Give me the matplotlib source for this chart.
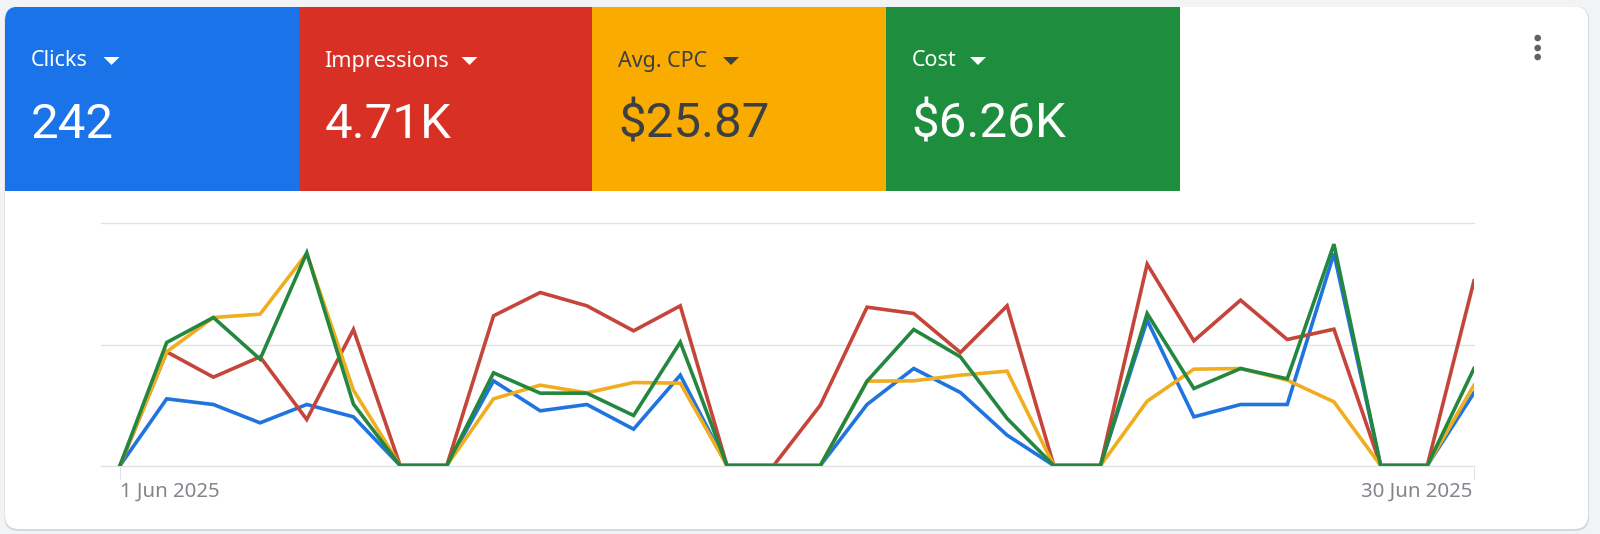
import matplotlib
matplotlib.use("Agg")
import matplotlib.pyplot as plt
from matplotlib.patches import FancyBboxPatch, Rectangle, Polygon, Circle
from matplotlib.transforms import ScaledTranslation

plt.rcParams['font.family'] = ['Roboto', 'DejaVu Sans']

# Data (heights; the top gridline is 726, the middle 363)
days = list(range(1, 31))
clicks = [0,200,183,128,183,146,0,0,254,164,183,109,271,0,0,0,183,291,219,91,0,0,436,146,183,183,636,0,0,218]
impressions = [0,341,265,326,138,408,0,0,449,519,479,404,479,0,0,181,475,456,339,479,0,0,604,374,496,378,409,0,0,554]
avg_cpc = [0,341,444,454,636,226,0,0,200,241,218,249,247,0,0,0,253,254,271,283,0,0,193,289,291,256,191,0,0,241]
cost = [0,369,444,319,638,184,0,0,278,217,217,150,370,0,0,0,253,408,326,141,0,0,456,231,291,260,664,0,0,291]
grid_values = [0, 363, 726]
tick_days = [1, 30]
tick_labels = ["1 Jun 2025", "30 Jun 2025"]

metric_names = ["Clicks", "Impressions", "Avg. CPC", "Cost"]
metric_values = ["242", "4.71K", "$25.87", "$6.26K"]
tile_colors = ["#1A73E8", "#D93025", "#F9AB00", "#1E8E3E"]
text_colors = ["#FFFFFF", "#FFFFFF", "#3C4043", "#FFFFFF"]
line_colors = ["#1F74E0", "#C5453A", "#F0AE1F", "#23873F"]
caret_x = [111.5, 469.5, 731, 978]

W, H = 1600, 534
fig = plt.figure(figsize=(W / 100, H / 100), dpi=100, facecolor="#F1F3F4")

bg = fig.add_axes([0, 0, 1, 1])
bg.set_xlim(0, W)
bg.set_ylim(H, 0)
bg.axis("off")

edge = FancyBboxPatch((4.5, 6.5), 1584.5, 524.5, boxstyle="round,pad=0,rounding_size=14",
                      fc="#D5D8DC", ec="none")
bg.add_patch(edge)
card = FancyBboxPatch((5, 6.5), 1583, 522.5, boxstyle="round,pad=0,rounding_size=14",
                      fc="white", ec="none")
bg.add_patch(card)

tile_w = 293.7
for i, (name, val, tc, txt) in enumerate(zip(metric_names, metric_values, tile_colors, text_colors)):
    x0 = 5 + i * tile_w
    r = Rectangle((x0, 6.5), tile_w, 184, fc=tc, ec="none")
    bg.add_patch(r)
    r.set_clip_path(card)
    bg.text(x0 + 25.5, 61, name, color=txt, fontsize=15.5, va="center", ha="left", family="Noto Sans")
    bg.text(x0 + 25.5, 125, val, color=txt, fontsize=35.5, va="center", ha="left")
    cx = caret_x[i]
    bg.add_patch(Polygon([[cx - 8, 57], [cx + 8, 57], [cx, 65]], closed=True, fc=txt, ec="none"))

for y in (38, 48, 57):
    bg.add_patch(Circle((1537.7, y), 3.3, fc="#5F6368", ec="none"))

# Chart axes: left 101.5, right 1474, baseline y 465, top gridline y 223
left_px = 101.5
ax = fig.add_axes([left_px / W, 1 - 465.5 / H, (1474 - left_px) / W, 242 / H])
ax.patch.set_alpha(0)
px_per_day = (1474 - 120) / 29
ax.set_xlim(1 - (120 - left_px) / px_per_day, 30)
ax.set_ylim(0, 726)
for s in ax.spines.values():
    s.set_visible(False)
ax.set_yticks(grid_values)
ax.tick_params(axis="y", length=0, labelleft=False)
ax.grid(axis="y", color="#E0E2E5", lw=1.0)
for gl in ax.get_ygridlines():
    gl.set_clip_on(False)
ax.set_axisbelow(True)
ax.set_xticks(tick_days)
ax.set_xticklabels(tick_labels, color="#80868B", fontsize=14.7, family="Noto Sans")
ax.tick_params(axis="x", length=9, width=0.8, color="#E0E2E5", pad=3)
labels = ax.get_xticklabels()
labels[0].set_ha("left")
labels[1].set_ha("right")
labels[1].set_transform(labels[1].get_transform() + ScaledTranslation(-2 / 100, 0, fig.dpi_scale_trans))

for series, c in zip([clicks, impressions, avg_cpc, cost], line_colors):
    ax.plot(days, series, color=c, lw=2.6, solid_joinstyle="miter", clip_on=True)

fig.savefig("out.png", dpi=100, facecolor=fig.get_facecolor())
